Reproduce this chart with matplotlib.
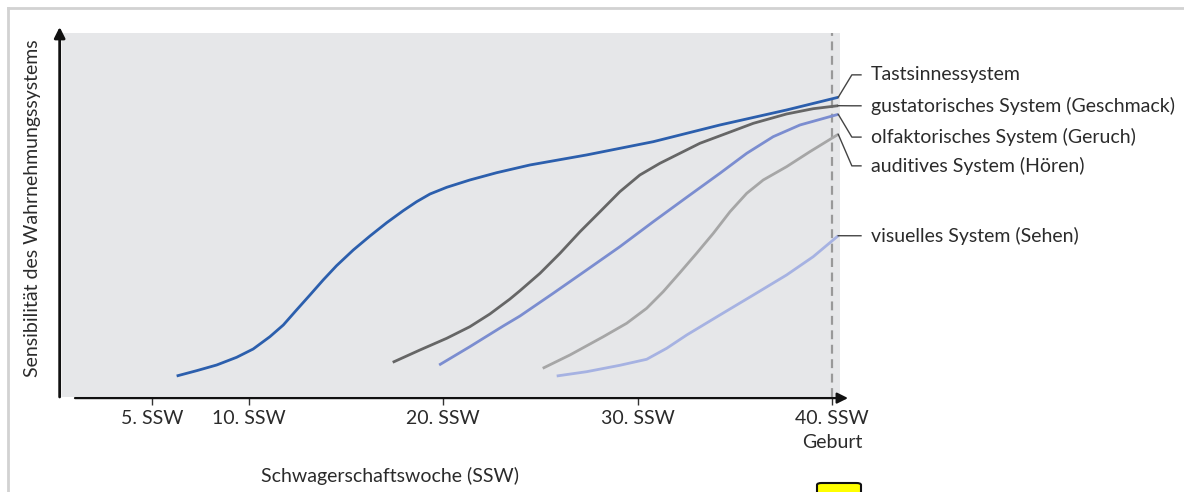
import matplotlib
matplotlib.use("Agg")
import matplotlib.pyplot as plt
from matplotlib.patches import FancyBboxPatch
from matplotlib.lines import Line2D

plt.rcParams['font.family'] = ['Lato', 'DejaVu Sans']

# ---- data (week, sensitivity 0-100) ----
tast_x = [6.28, 7.31, 8.34, 9.37, 10.22, 11.08, 11.77, 12.45, 13.14, 13.82, 14.51, 15.37,
          16.23, 17.09, 17.94, 18.63, 19.32, 20.18, 21.37, 22.75, 24.46, 27.38, 30.81,
          34.24, 37.67, 40.33]
tast_y = [5.77, 7.23, 8.79, 10.91, 13.19, 16.57, 19.78, 23.90, 28.02, 32.14, 36.07, 40.38,
          44.23, 47.88, 51.18, 53.65, 55.77, 57.61, 59.62, 61.62, 63.74, 66.50, 70.14,
          74.73, 78.85, 82.34]

gust_x = [17.40, 18.80, 20.18, 21.37, 22.40, 23.43, 23.95, 24.98, 26.01, 27.04, 28.07,
          29.09, 30.12, 31.15, 32.18, 33.21, 34.59, 35.96, 37.67, 39.04, 40.33]
gust_y = [9.53, 12.91, 16.13, 19.31, 22.80, 26.90, 29.20, 33.98, 39.48, 45.41, 50.91,
          56.40, 60.99, 64.20, 66.95, 69.70, 72.45, 75.19, 77.75, 79.20, 80.03]

olf_x = [19.79, 21.37, 23.09, 23.95, 25.66, 27.38, 29.09, 30.81, 32.53, 34.24, 35.62,
         36.98, 38.36, 40.33]
olf_y = [8.79, 13.82, 19.51, 22.25, 28.49, 34.89, 41.29, 48.16, 54.86, 61.46, 66.95,
         71.51, 74.73, 77.66]

aud_x = [25.12, 26.52, 28.24, 29.44, 30.47, 31.32, 32.18, 33.04, 33.90, 34.76, 35.62,
         36.47, 37.67, 38.87, 40.33]
aud_y = [7.88, 11.54, 16.57, 20.25, 24.37, 28.93, 34.15, 39.48, 44.97, 50.91, 55.96,
         59.62, 63.27, 67.39, 72.17]

vis_x = [25.84, 27.38, 29.09, 30.47, 31.50, 32.53, 34.24, 35.96, 37.67, 39.04, 40.33]
vis_y = [5.77, 6.95, 8.71, 10.36, 13.38, 17.03, 22.53, 28.02, 33.52, 38.54, 44.31]

series_names = ["Tastsinnessystem",
                "gustatorisches System (Geschmack)",
                "olfaktorisches System (Geruch)",
                "auditives System (Hören)",
                "visuelles System (Sehen)"]
series_x = [tast_x, gust_x, olf_x, aud_x, vis_x]
series_y = [tast_y, gust_y, olf_y, aud_y, vis_y]
series_colors = ["#2c5fad", "#666666", "#7b8dd0", "#a6a6a6", "#a6b2e2"]
label_y = [88.5, 80.0, 71.4, 63.5, 44.3]

tick_pos = [5, 10, 20, 30, 40]
tick_labels = ["5. SSW", "10. SSW", "20. SSW", "30. SSW", "40. SSW\nGeburt"]
birth_week = 40

# ---- figure ----
fig = plt.figure(figsize=(11.84, 4.92), dpi=100)
ax = fig.add_axes([62/1184, 95/492, 778/1184, 364/492])
ax.set_facecolor("#e6e7e9")
ax.set_xlim(0.38, 40.42)
ax.set_ylim(0, 100)
for s in ax.spines.values():
    s.set_visible(False)
ax.set_yticks([])

ax.set_xticks(tick_pos)
ax.set_xticklabels(tick_labels, fontsize=14, color="#2b2b2b", linespacing=1.55, va="top")
ax.tick_params(axis="x", length=6, width=1, color="#333333", pad=3)

# dashed birth line
ax.axvline(birth_week, color="#999999", lw=1.6, ls=(0, (4, 2.5)), zorder=1)

# curves
for xs, ys, c in zip(series_x, series_y, series_colors):
    ax.plot(xs, ys, color=c, lw=2.0, solid_capstyle="butt", solid_joinstyle="round", zorder=3)

# leader lines & labels
elbow_x = 41.03
hend_x = 41.50
text_x = 42.01
for xs, ys, name, ly in zip(series_x, series_y, series_names, label_y):
    ex, ey = xs[-1], ys[-1]
    ax.plot([ex, elbow_x, hend_x], [ey, ly, ly], color="#444444", lw=1.0, clip_on=False, zorder=4)
    ax.text(text_x, ly, name, fontsize=14, color="#2b2b2b", va="center", ha="left", clip_on=False)

# axis arrows
ax.annotate("", xy=(-0.003, 1.0165), xytext=(-0.003, 0.0), xycoords="axes fraction",
            textcoords="axes fraction",
            arrowprops=dict(arrowstyle="-|>", color="#111111", lw=2.0, mutation_scale=16,
                            shrinkA=0, shrinkB=0))
ax.annotate("", xy=(1.0103, -0.003), xytext=(0.0167, -0.003), xycoords="axes fraction",
            textcoords="axes fraction",
            arrowprops=dict(arrowstyle="-|>", color="#111111", lw=1.6, mutation_scale=16,
                            shrinkA=0, shrinkB=0))

# axis labels
fig.text(390/1184, 1 - 476/492, "Schwagerschaftswoche (SSW)", fontsize=14, color="#2b2b2b",
         ha="center", va="center")
fig.text(33/1184, 1 - 208/492, "Sensibilität des Wahrnehmungssystems", fontsize=14,
         color="#2b2b2b", ha="center", va="center", rotation=90)

# outer frame
fig.add_artist(Line2D([8/1184, 8/1184], [0, 1 - 8/492], transform=fig.transFigure,
                      color="#d2d2d2", lw=2))
fig.add_artist(Line2D([8/1184, 1], [1 - 8/492, 1 - 8/492], transform=fig.transFigure,
                      color="#d2d2d2", lw=2))

# small yellow icon (cut off at bottom)
fig.add_artist(FancyBboxPatch((817/1184, -0.02), 44/1184, (0.02 + 9/492),
                              boxstyle="round,pad=0,rounding_size=0.004",
                              transform=fig.transFigure, facecolor="#ffff00",
                              edgecolor="#111111", lw=1.5))

fig.savefig("out.png", dpi=100)
